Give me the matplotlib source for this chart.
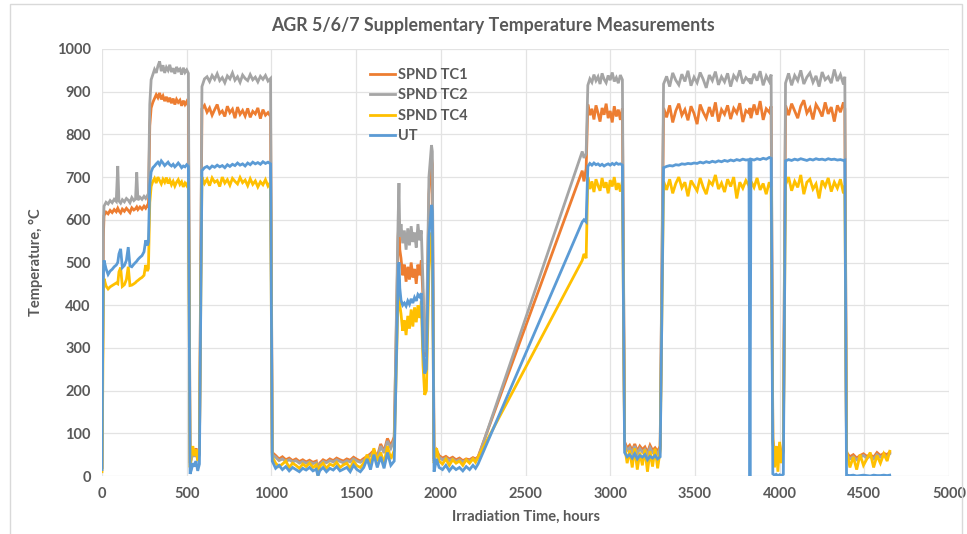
import matplotlib
matplotlib.use("Agg")
import matplotlib.pyplot as plt
from matplotlib.patches import Rectangle

plt.rcParams['font.family'] = ['Lato', 'DejaVu Sans']

# ---------------- data (hours, °C), read segment by segment ----------------
# start-up
t_start = [0, 4, 8]
tc1_start = [20, 300, 560]
tc2_start = [20, 320, 590]
tc4_start = [10, 190, 420]
ut_start = [15, 300, 470]

# first plateau
t_p1 = [12, 24, 36, 48, 60, 72, 84, 93, 100, 110, 120, 132, 144, 155, 165, 176, 188, 198, 205, 212, 224, 236, 248, 258, 268, 274]
tc1_p1 = [610, 618, 614, 622, 617, 624, 619, 627, 621, 616, 625, 620, 627, 622, 617, 628, 623, 626, 630, 624, 630, 625, 632, 627, 634, 629]
tc2_p1 = [632, 641, 637, 645, 640, 648, 643, 726, 644, 639, 647, 642, 650, 646, 640, 652, 645, 649, 711, 646, 653, 648, 655, 650, 657, 652]
tc4_p1 = [462, 445, 438, 443, 446, 449, 452, 450, 478, 488, 444, 448, 460, 490, 446, 447, 450, 453, 456, 458, 462, 465, 470, 494, 480, 486]
ut_p1 = [505, 485, 472, 480, 484, 490, 494, 500, 520, 532, 488, 493, 505, 536, 492, 490, 496, 500, 503, 507, 512, 516, 525, 552, 540, 548]

# second plateau
t_p2 = [282, 290, 300, 310, 320, 330, 340, 350, 360, 370, 380, 390, 400, 410, 420, 430, 440, 450, 460, 470, 480, 490, 500, 510]
tc1_p2 = [820, 862, 875, 884, 893, 886, 897, 882, 890, 878, 888, 876, 886, 873, 884, 870, 882, 875, 880, 867, 879, 870, 877, 866]
tc2_p2 = [870, 928, 940, 952, 944, 960, 971, 948, 962, 944, 957, 950, 963, 946, 955, 942, 958, 949, 953, 940, 956, 945, 951, 943]
tc4_p2 = [640, 678, 690, 697, 686, 700, 692, 684, 695, 688, 699, 685, 693, 682, 690, 679, 688, 694, 683, 689, 677, 686, 680, 690]
ut_p2 = [680, 712, 722, 726, 731, 735, 729, 738, 733, 727, 731, 735, 729, 726, 730, 724, 728, 733, 728, 722, 726, 724, 729, 725]

# short outage
t_o1 = [520, 528, 536, 545, 555, 565, 575]
tc1_o1 = [30, 45, 60, 50, 65, 40, 55]
tc2_o1 = [25, 40, 55, 45, 58, 38, 50]
tc4_o1 = [20, 55, 70, 48, 62, 35, 66]
ut_o1 = [5, 15, 30, 22, 35, 12, 28]

# third plateau
t_p3 = [590, 605, 620, 635, 650, 665, 680, 695, 710, 725, 740, 755, 770, 785, 800, 815, 830, 845, 860, 875, 890, 905, 920, 935, 950, 965, 980, 995]
tc1_p3 = [860, 868, 852, 862, 845, 858, 870, 849, 855, 842, 866, 851, 859, 838, 864, 847, 856, 843, 861, 840, 854, 848, 862, 837, 858, 845, 851, 842]
tc2_p3 = [912, 930, 935, 924, 938, 929, 942, 926, 933, 921, 937, 930, 944, 927, 935, 922, 939, 931, 926, 940, 928, 934, 923, 936, 929, 938, 925, 931]
tc4_p3 = [700, 685, 695, 680, 698, 688, 692, 678, 700, 686, 694, 681, 697, 690, 684, 699, 687, 693, 680, 696, 683, 691, 677, 689, 682, 694, 679, 688]
ut_p3 = [715, 722, 725, 720, 726, 723, 728, 724, 727, 722, 729, 725, 730, 727, 733, 728, 731, 726, 733, 729, 735, 731, 734, 730, 736, 732, 735, 731]

# long outage
t_o2 = [1005, 1025, 1045, 1065, 1085, 1105, 1125, 1145, 1165, 1185, 1205, 1225, 1245, 1265, 1275, 1285, 1305, 1325, 1345, 1365, 1385, 1405, 1425, 1445, 1465, 1485, 1505, 1525, 1545, 1565, 1585, 1605, 1625, 1645, 1665, 1685, 1705, 1725]
tc1_o2 = [55, 48, 40, 45, 38, 42, 36, 40, 34, 38, 33, 37, 32, 35, 5, 30, 38, 34, 40, 36, 42, 38, 35, 40, 37, 44, 39, 35, 41, 46, 52, 60, 45, 75, 58, 88, 70, 92]
tc2_o2 = [50, 44, 36, 40, 34, 38, 33, 36, 30, 34, 30, 33, 29, 31, 3, 27, 34, 31, 36, 33, 38, 34, 31, 36, 33, 40, 35, 32, 37, 42, 48, 55, 42, 70, 54, 82, 65, 85]
tc4_o2 = [45, 30, 22, 28, 35, 20, 30, 25, 18, 28, 22, 30, 20, 26, 0, 22, 30, 18, 28, 24, 32, 20, 26, 30, 18, 34, 24, 20, 30, 50, 28, 65, 35, 55, 30, 70, 40, 60]
ut_o2 = [35, 18, 25, 15, 22, 12, 20, 15, 10, 18, 14, 20, 12, 16, 0, 12, 20, 10, 18, 14, 22, 12, 16, 20, 10, 25, 15, 10, 20, 40, 15, 50, 20, 45, 18, 55, 25, 35]

# short irradiation period with spikes
t_s = [1748, 1753, 1758, 1765, 1775, 1785, 1795, 1805, 1815, 1825, 1835, 1845, 1855, 1865, 1875, 1885, 1895, 1905, 1915, 1930, 1945, 1950]
tc1_s = [560, 600, 530, 510, 470, 495, 455, 490, 460, 500, 465, 485, 450, 495, 470, 505, 420, 280, 300, 660, 745, 730]
tc2_s = [600, 686, 560, 590, 545, 575, 530, 580, 540, 585, 548, 570, 535, 590, 552, 575, 450, 290, 320, 700, 775, 760]
tc4_s = [420, 460, 400, 380, 340, 365, 330, 375, 345, 390, 350, 395, 360, 400, 370, 410, 260, 190, 200, 480, 570, 555]
ut_s = [460, 500, 440, 412, 400, 405, 398, 410, 402, 415, 405, 418, 410, 425, 420, 428, 300, 240, 250, 560, 635, 620]

# outage before ramp
t_o3 = [1960, 1975, 1990, 2010, 2030, 2050, 2070, 2090, 2110, 2130, 2150, 2170, 2190, 2205, 2220]
tc1_o3 = [40, 60, 48, 42, 46, 40, 44, 38, 42, 36, 40, 38, 43, 40, 45]
tc2_o3 = [35, 55, 44, 38, 42, 36, 40, 34, 38, 33, 37, 35, 40, 37, 42]
tc4_o3 = [30, 65, 35, 28, 40, 25, 38, 30, 35, 25, 38, 30, 40, 32, 44]
ut_o3 = [10, 40, 20, 15, 25, 12, 22, 15, 20, 12, 22, 15, 25, 18, 28]

# end of (unrecorded) ramp and fourth plateau
t_p4 = [2835, 2845, 2858, 2868, 2880, 2892, 2904, 2916, 2928, 2940, 2952, 2964, 2976, 2988, 3000, 3012, 3024, 3036, 3048, 3060, 3072]
tc1_p4 = [715, 690, 720, 870, 845, 860, 835, 868, 850, 830, 862, 846, 872, 838, 855, 828, 866, 842, 858, 834, 861]
tc2_p4 = [760, 745, 755, 915, 930, 922, 940, 926, 935, 918, 943, 929, 921, 938, 927, 945, 924, 933, 920, 939, 928]
tc4_p4 = [505, 520, 510, 700, 672, 690, 665, 695, 680, 668, 698, 675, 688, 662, 693, 678, 700, 670, 686, 666, 690]
ut_p4 = [595, 600, 595, 725, 732, 728, 733, 729, 731, 727, 730, 726, 729, 731, 728, 732, 729, 733, 730, 731, 728]

# outage
t_o4 = [3085, 3100, 3115, 3130, 3145, 3160, 3175, 3190, 3205, 3220, 3235, 3250, 3265, 3280, 3295]
tc1_o4 = [80, 65, 72, 60, 75, 58, 70, 62, 68, 55, 72, 60, 66, 58, 70]
tc2_o4 = [75, 60, 66, 55, 70, 52, 64, 56, 62, 50, 66, 55, 60, 52, 64]
tc4_o4 = [70, 30, 60, 20, 65, 15, 55, 25, 62, 10, 58, 22, 64, 18, 60]
ut_o4 = [55, 45, 50, 42, 52, 40, 48, 44, 50, 38, 46, 42, 48, 40, 45]

# fifth plateau (UT drop-out near 3825 h)
t_p5 = [3315, 3333, 3351, 3369, 3387, 3405, 3423, 3441, 3459, 3477, 3495, 3513, 3531, 3549, 3567, 3585, 3603, 3621, 3639, 3657, 3675, 3693, 3711, 3729, 3747, 3765, 3783, 3801, 3819, 3825, 3831, 3849, 3867, 3885, 3903, 3921, 3939, 3950]
tc1_p5 = [862, 840, 868, 828, 855, 872, 845, 858, 833, 866, 849, 824, 870, 852, 838, 864, 842, 875, 830, 858, 847, 868, 836, 861, 850, 873, 829, 856, 850, 862, 838, 870, 846, 878, 834, 860, 852, 866]
tc2_p5 = [918, 936, 912, 944, 927, 916, 941, 924, 949, 914, 934, 921, 945, 929, 909, 939, 926, 947, 916, 935, 923, 943, 912, 938, 928, 950, 919, 933, 925, 931, 918, 942, 926, 948, 915, 937, 924, 940]
tc4_p5 = [690, 670, 695, 662, 685, 700, 675, 688, 655, 692, 680, 668, 698, 676, 660, 690, 682, 705, 672, 686, 665, 695, 678, 700, 650, 688, 674, 692, 680, 664, 690, 676, 698, 670, 685, 660, 688, 675]
ut_p5 = [722, 725, 727, 726, 729, 728, 731, 730, 732, 731, 733, 732, 735, 733, 736, 734, 737, 735, 738, 736, 739, 737, 740, 738, 741, 739, 742, 740, 741, 0, 742, 740, 743, 741, 744, 742, 746, 744]

# short outage
t_o5 = [3960, 3970, 3980, 3990, 4000, 4010, 4022]
tc1_o5 = [85, 50, 70, 40, 75, 45, 65]
tc2_o5 = [80, 45, 65, 35, 70, 40, 60]
tc4_o5 = [90, 20, 70, 10, 80, 30, 60]
ut_o5 = [5, 2, 4, 0, 3, 1, 4]

# sixth plateau
t_p6 = [4035, 4053, 4071, 4089, 4107, 4125, 4143, 4161, 4179, 4197, 4215, 4233, 4251, 4269, 4287, 4305, 4323, 4341, 4359, 4377, 4385]
tc1_p6 = [868, 845, 872, 855, 838, 866, 880, 850, 862, 835, 870, 858, 842, 875, 848, 864, 830, 868, 852, 875, 860]
tc2_p6 = [920, 943, 915, 938, 926, 950, 918, 934, 944, 922, 937, 912, 946, 928, 935, 920, 952, 925, 940, 917, 935]
tc4_p6 = [682, 700, 668, 690, 676, 705, 660, 688, 695, 672, 684, 650, 692, 678, 698, 666, 688, 674, 695, 662, 680]
ut_p6 = [738, 741, 739, 742, 740, 743, 741, 739, 742, 740, 743, 741, 742, 740, 743, 741, 742, 740, 741, 739, 740]

# final outage
t_o6 = [4395, 4415, 4435, 4455, 4475, 4495, 4515, 4535, 4555, 4575, 4595, 4615, 4635, 4650]
tc1_o6 = [55, 45, 50, 42, 48, 52, 46, 50, 44, 55, 48, 53, 50, 56]
tc2_o6 = [50, 40, 45, 38, 44, 48, 42, 46, 40, 50, 44, 48, 46, 52]
tc4_o6 = [60, 20, 45, 15, 50, 25, 40, 55, 20, 48, 30, 52, 35, 58]
ut_o6 = [2, 1, 2, 0, 1, 2, 1, 0, 2, 1, 1, 2, 1, 2]

segments_t = [t_start, t_p1, t_p2, t_o1, t_p3, t_o2, t_s, t_o3, t_p4, t_o4, t_p5, t_o5, t_p6, t_o6]
series = {
    "SPND TC1": [tc1_start, tc1_p1, tc1_p2, tc1_o1, tc1_p3, tc1_o2, tc1_s, tc1_o3, tc1_p4, tc1_o4, tc1_p5, tc1_o5, tc1_p6, tc1_o6],
    "SPND TC2": [tc2_start, tc2_p1, tc2_p2, tc2_o1, tc2_p3, tc2_o2, tc2_s, tc2_o3, tc2_p4, tc2_o4, tc2_p5, tc2_o5, tc2_p6, tc2_o6],
    "SPND TC4": [tc4_start, tc4_p1, tc4_p2, tc4_o1, tc4_p3, tc4_o2, tc4_s, tc4_o3, tc4_p4, tc4_o4, tc4_p5, tc4_o5, tc4_p6, tc4_o6],
    "UT": [ut_start, ut_p1, ut_p2, ut_o1, ut_p3, ut_o2, ut_s, ut_o3, ut_p4, ut_o4, ut_p5, ut_o5, ut_p6, ut_o6],
}
colors = {"SPND TC1": "#ED7D31", "SPND TC2": "#A5A5A5", "SPND TC4": "#FFC000", "UT": "#5B9BD5"}

x_ticks = [0, 500, 1000, 1500, 2000, 2500, 3000, 3500, 4000, 4500, 5000]
y_ticks = [0, 100, 200, 300, 400, 500, 600, 700, 800, 900, 1000]

# ---------------- plotting ----------------
fig = plt.figure(figsize=(9.67, 5.34), dpi=100)
ax = fig.add_axes([102 / 967, 1 - 476 / 534, 847 / 967, 427 / 534])

times = [t for seg in segments_t for t in seg]
for name, segs in series.items():
    vals = [v for seg in segs for v in seg]
    ax.plot(times, vals, color=colors[name], lw=2.0, label=name, solid_joinstyle='miter')

ax.set_xlim(0, 5000)
ax.set_ylim(0, 1000)
ax.set_xticks(x_ticks)
ax.set_yticks(y_ticks)
ax.grid(True, color="#E3E3E3", lw=0.9)
ax.set_axisbelow(True)
for s in ax.spines.values():
    s.set_visible(False)
ax.tick_params(length=0, labelsize=10.5, colors="#595959", pad=8)
for lab in ax.get_xticklabels() + ax.get_yticklabels():
    lab.set_fontweight("bold")

ax.set_xlabel("Irradiation Time, hours", fontsize=10.5, fontweight="bold", color="#595959", labelpad=6)
ax.set_ylabel("Temperature, \u00b0C", fontsize=10.5, fontweight="bold", color="#595959", labelpad=10)
fig.text(493 / 967, 1 - 25 / 534, "AGR 5/6/7 Supplementary Temperature Measurements",
         ha="center", va="center", fontsize=12.8, fontweight="bold", color="#595959")

leg = ax.legend(loc="upper left", bbox_to_anchor=(0.31, 0.97), frameon=False,
                fontsize=10.5, handlelength=1.7, handletextpad=0.2, labelspacing=0.45,
                borderaxespad=0)
for txt in leg.get_texts():
    txt.set_color("#595959")
    txt.set_fontweight("bold")
for ln in leg.get_lines():
    ln.set_linewidth(2)

fig.patches.append(Rectangle((10 / 967, -0.01), 952 / 967, 1 - 4 / 534 + 0.01,
                             transform=fig.transFigure, fill=False, edgecolor="#D9D9D9", lw=1))

fig.savefig("out.png", dpi=100)
